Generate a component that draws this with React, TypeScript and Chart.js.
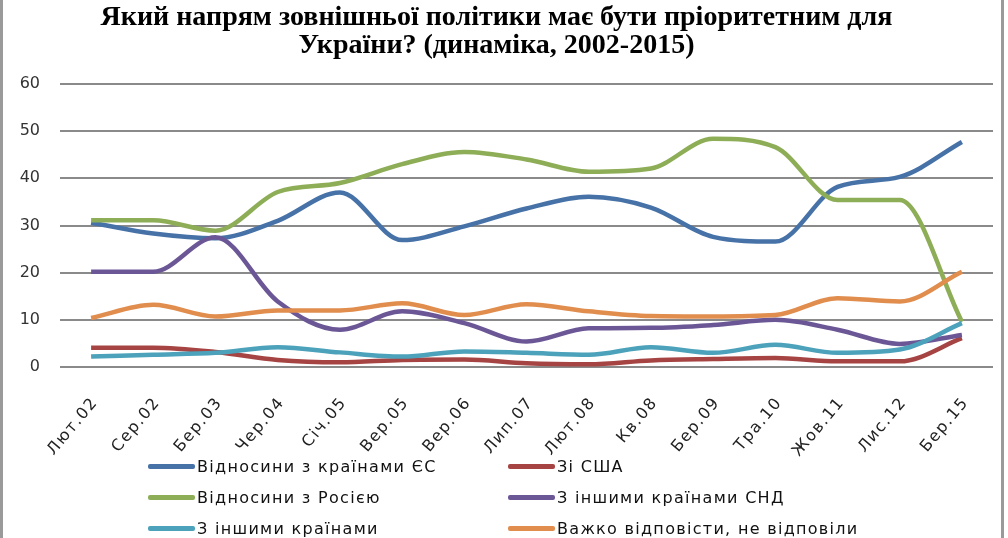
import React, { useEffect, useRef } from "react";
import { Chart, registerables } from "chart.js";

Chart.register(...registerables);

const categories = ["Лют.02", "Сер.02", "Бер.03", "Чер.04", "Січ.05", "Вер.05", "Вер.06", "Лип.07", "Лют.08", "Кв.08", "Бер.09", "Тра.10", "Жов.11", "Лис.12", "Бер.15"];
const euValues = [30.6, 28.3, 27.3, 31, 37, 26.9, 29.8, 33.6, 36.1, 33.8, 27.6, 26.6, 38.2, 40.3, 47.7];
const usaValues = [4.1, 4.1, 3.2, 1.5, 1.0, 1.5, 1.6, 0.8, 0.6, 1.4, 1.7, 1.9, 1.2, 1.2, 6.1];
const russiaValues = [31.1, 31.1, 28.9, 37.1, 39, 43, 45.6, 44, 41.4, 42.1, 48.4, 46.6, 35.4, 35.4, 9.6];
const cisValues = [20.2, 20.2, 27.5, 13.9, 7.9, 11.8, 9.3, 5.4, 8.2, 8.3, 8.9, 10, 7.9, 4.9, 6.8];
const otherValues = [2.2, 2.6, 3.0, 4.2, 3.1, 2.2, 3.3, 3.0, 2.6, 4.2, 3.0, 4.7, 3.0, 3.7, 9.3];
const hardValues = [10.4, 13.2, 10.7, 12, 12, 13.5, 11, 13.3, 11.8, 10.8, 10.7, 11, 14.6, 13.9, 20.2];

const seriesNames = ["Відносини з країнами ЄС", "Зі США", "Відносини з Росією", "З іншими країнами СНД", "З іншими країнами", "Важко відповісти, не відповіли"];
const seriesColors = ["#4672A8", "#A54442", "#8EAD57", "#6C5796", "#4BA2BA", "#E08D4E"];
const seriesValues = [euValues, usaValues, russiaValues, cisValues, otherValues, hardValues];
const titleLines = ["Який напрям зовнішньої політики має бути пріоритетним для", "України? (динаміка, 2002-2015)"];

const rotatedXLabels = {
  id: "rotatedXLabels",
  afterDraw(chart: any) {
    const xScale = chart.scales.x;
    const ctx = chart.ctx;
    ctx.save();
    ctx.font = "16px 'DejaVu Sans'";
    ctx.fillStyle = "#222";
    ctx.textAlign = "right";
    ctx.textBaseline = "middle";
    try { (ctx as any).letterSpacing = "1.5px"; } catch (e) {}
    const labels: string[] = chart.data.labels;
    labels.forEach((lab, i) => {
      const x = xScale.getPixelForValue(i);
      ctx.save();
      ctx.translate(x + 4, chart.chartArea.bottom + 33);
      ctx.rotate((-50 * Math.PI) / 180);
      ctx.fillText(lab, 0, 0);
      ctx.restore();
    });
    ctx.restore();
  },
};

export default function App() {
  const canvasRef = useRef<HTMLCanvasElement | null>(null);

  useEffect(() => {
    document.body.style.margin = "0";
    const canvas = canvasRef.current;
    if (!canvas) return;
    const chart = new Chart(canvas, {
      type: "line",
      data: {
        labels: categories,
        datasets: seriesValues.map((vals, i) => ({
          label: seriesNames[i],
          data: vals,
          borderColor: seriesColors[i],
          backgroundColor: seriesColors[i],
          borderWidth: 4.5,
          pointRadius: 0,
          cubicInterpolationMode: "monotone" as const,
          fill: false,
          order: 6 - i,
        })),
      },
      plugins: [rotatedXLabels],
      options: {
        animation: false,
        responsive: false,
        maintainAspectRatio: false,
        layout: { padding: { left: 0, right: 15, top: 0, bottom: 88 } },
        plugins: {
          legend: { display: false },
          tooltip: { enabled: false },
          title: {
            display: true,
            text: titleLines,
            color: "#000",
            font: { family: "'Liberation Serif'", size: 28, weight: "bold", lineHeight: 1.0 },
            padding: { top: 4, bottom: 24 },
          },
        },
        scales: {
          x: {
            offset: true,
            grid: { display: false, drawTicks: false },
            border: { display: false },
            ticks: { display: false },
            afterFit: (scale: any) => {
              scale.height = 83;
            },
          },
          y: {
            min: 0,
            max: 60,
            grid: { color: "#8a8a8a", lineWidth: 2, drawTicks: false },
            border: { display: false },
            ticks: {
              stepSize: 10,
              padding: 20,
              color: "#333",
              font: { family: "'DejaVu Sans'", size: 16 },
            },
            afterFit: (scale: any) => {
              scale.width = 60;
            },
          },
        },
      },
    });
    return () => chart.destroy();
  }, []);

  const legendItem = (i: number) => (
    <div key={i} style={{ display: "flex", alignItems: "center", height: 31 }}>
      <div style={{ width: 47, height: 5, background: seriesColors[i], borderRadius: 2 }} />
      <span style={{ marginLeft: 2, fontFamily: "'DejaVu Sans'", fontSize: 16, letterSpacing: 1.3, color: "#111", whiteSpace: "nowrap" }}>{seriesNames[i]}</span>
    </div>
  );

  return (
    <div style={{ position: "relative", width: 1008, height: 538, background: "#fff", overflow: "hidden" }}>
      <canvas ref={canvasRef} width={1008} height={538} style={{ position: "absolute", left: 0, top: 0 }} />
      <div style={{ position: "absolute", left: 148, top: 451, display: "grid", gridTemplateColumns: "360px 360px", rowGap: 0 }}>
        {[0, 1, 2, 3, 4, 5].map(legendItem)}
      </div>
      <div style={{ position: "absolute", left: 0, top: 0, width: 3, height: 538, background: "#9a9a9a" }} />
      <div style={{ position: "absolute", left: 1001, top: 0, width: 3, height: 538, background: "#9a9a9a" }} />
    </div>
  );
}
